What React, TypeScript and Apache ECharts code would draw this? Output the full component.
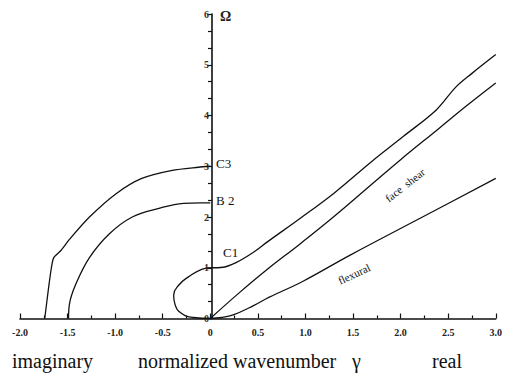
import React, { useEffect, useRef } from "react";
import * as echarts from "echarts";

// Dispersion curves: [normalized wavenumber, Omega]
const flexural: number[][] = [
  [0, 0], [0.12, 0.02], [0.24, 0.07], [0.45, 0.25], [0.62, 0.42], [0.97, 0.73],
  [1.47, 1.25], [2.23, 2.0], [3.0, 2.76],
];
const faceShear: number[][] = [
  [0, 0], [0.3, 0.5], [0.6, 0.97], [0.95, 1.48], [1.3, 2.01], [1.7, 2.65],
  [2.0, 3.13], [2.4, 3.74], [2.7, 4.2], [3.0, 4.64],
];
const c1Real: number[][] = [
  [0, 1.0], [0.135, 1.01], [0.27, 1.1], [0.45, 1.3], [0.6, 1.51], [0.95, 1.98],
  [1.3, 2.47], [1.7, 3.1], [2.03, 3.59], [2.375, 4.11], [2.58, 4.56],
  [2.75, 4.83], [3.0, 5.2],
];
const c1Imag: number[][] = [
  [0, 1.0], [-0.09, 0.97], [-0.23, 0.82], [-0.33, 0.66], [-0.385, 0.46],
  [-0.37, 0.27], [-0.3, 0.1], [-0.18, 0.02], [0, 0],
];
const b2Imag: number[][] = [
  [0, 2.28], [-0.1, 2.28], [-0.28, 2.27], [-0.54, 2.17], [-0.82, 2.0],
  [-1.06, 1.67], [-1.27, 1.2], [-1.41, 0.69], [-1.48, 0.29], [-1.49, 0],
];
const c3Imag: number[][] = [
  [0, 3.0], [-0.125, 2.98], [-0.4, 2.92], [-0.72, 2.76], [-0.99, 2.46],
  [-1.27, 2.0], [-1.48, 1.56], [-1.57, 1.34], [-1.645, 1.2], [-1.67, 1.0],
  [-1.7, 0.6], [-1.72, 0.3], [-1.74, 0],
];

const xRange = [-2, 3];
const yRange = [0, 6];

const branchLabels = [
  { text: "C3", x: 216, y: 163 },
  { text: "B 2", x: 216, y: 200 },
  { text: "C1", x: 223, y: 252 },
];

const SERIF = "Liberation Serif";
const W = 505;
const H = 377;
const GRID = { left: 20, right: 5, top: 14, bottom: 58.5 };

export default function App() {
  const ref = useRef<HTMLDivElement>(null);
  useEffect(() => {
    if (!ref.current) return;
    const chart = echarts.init(ref.current, undefined, { renderer: "svg" });
    const plotW = W - GRID.left - GRID.right;
    const yAxisOffset = -((0 - xRange[0]) / (xRange[1] - xRange[0])) * plotW;
    const lineSeries = (data: number[][], smooth: number) => ({
      type: "line",
      data,
      smooth,
      symbol: "none",
      lineStyle: { color: "#111", width: 1.3 },
      silent: true,
    });
    chart.setOption({
      animation: false,
      backgroundColor: "#fff",
      grid: GRID,
      xAxis: {
        type: "value",
        min: xRange[0],
        max: xRange[1],
        interval: 0.5,
        axisLine: { onZero: false, lineStyle: { color: "#111", width: 1.6 } },
        axisTick: { show: true, inside: true, length: 5, lineStyle: { color: "#111", width: 1.2 } },
        minorTick: { show: true, splitNumber: 2, length: 3, lineStyle: { color: "#111", width: 1.2 } },
        splitLine: { show: false },
        axisLabel: {
          margin: 9,
          fontFamily: SERIF,
          fontSize: 10,
          fontWeight: "bold",
          color: "#222",
          formatter: (v: number) => (v === 0 ? "0" : v.toFixed(1)),
        },
      },
      yAxis: {
        type: "value",
        min: yRange[0],
        max: yRange[1],
        interval: 1,
        position: "left",
        offset: yAxisOffset,
        axisLine: { show: true, onZero: false, lineStyle: { color: "#111", width: 1.6 } },
        axisTick: { show: true, length: 5, lineStyle: { color: "#111", width: 1.2 } },
        minorTick: { show: true, splitNumber: 3, length: 4, lineStyle: { color: "#111", width: 1.2 } },
        splitLine: { show: false },
        axisLabel: {
          margin: 3,
          fontFamily: SERIF,
          fontSize: 10,
          fontWeight: "bold",
          color: "#333",
        },
      },
      series: [
        lineSeries(flexural, 0.4),
        lineSeries(faceShear, 0.4),
        lineSeries(c1Real, 0.35),
        lineSeries(c1Imag, 0.5),
        lineSeries(b2Imag, 0.4),
        lineSeries(c3Imag, 0.25),
      ],
      graphic: [
        {
          type: "text",
          x: 220,
          y: 16,
          style: { text: "Ω", fontFamily: SERIF, fontSize: 14, fontWeight: "bold", fill: "#222", verticalAlign: "middle" },
        },
        ...branchLabels.map((l) => ({
          type: "text",
          x: l.x,
          y: l.y,
          style: { text: l.text, fontFamily: SERIF, fontSize: 13, fill: "#111", verticalAlign: "middle" },
        })),
        {
          type: "text",
          x: 405,
          y: 185,
          rotation: (38 * Math.PI) / 180,
          style: { text: "face  shear", fontFamily: SERIF, fontSize: 11, fill: "#111", align: "center", verticalAlign: "middle" },
        },
        {
          type: "text",
          x: 354,
          y: 274,
          rotation: (25 * Math.PI) / 180,
          style: { text: "flexural", fontFamily: SERIF, fontSize: 11, fill: "#111", align: "center", verticalAlign: "middle" },
        },
        {
          type: "text",
          x: 12,
          y: 361,
          style: { text: "imaginary", fontFamily: SERIF, fontSize: 20, fill: "#111", verticalAlign: "middle" },
        },
        {
          type: "text",
          x: 138,
          y: 361,
          style: { text: "normalized wavenumber", fontFamily: SERIF, fontSize: 20, fill: "#111", verticalAlign: "middle" },
        },
        {
          type: "text",
          x: 352,
          y: 361,
          style: { text: "γ", fontFamily: SERIF, fontSize: 20, fill: "#111", verticalAlign: "middle" },
        },
        {
          type: "text",
          x: 432,
          y: 361,
          style: { text: "real", fontFamily: SERIF, fontSize: 20, fill: "#111", verticalAlign: "middle" },
        },
      ],
    });
    return () => chart.dispose();
  }, []);
  return (
    <div
      ref={ref}
      style={{ position: "fixed", left: 0, top: 0, width: W, height: H, background: "#fff" }}
    />
  );
}
